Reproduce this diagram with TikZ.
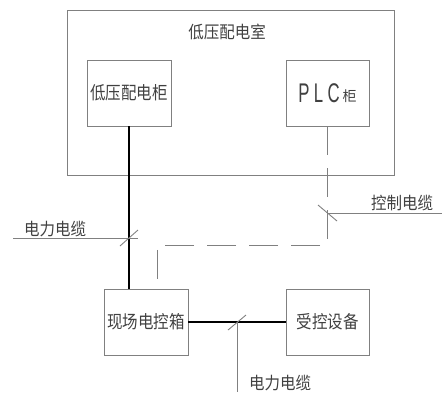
\documentclass[tikz,border=0pt]{standalone}
\usepackage{fontspec}
\usetikzlibrary{calc}
\newfontfamily\cjk{Noto Sans CJK SC}
\newfontfamily\latin{Liberation Sans}
\definecolor{linegray}{HTML}{808080}
\definecolor{textgray}{HTML}{404040}
\tikzset{
  box/.style={draw=linegray, line width=0.9pt, minimum width=84pt, minimum height=66pt, inner sep=0pt},
  power/.style={line width=2.8pt, black},
  ctrl/.style={draw=linegray, line width=0.9pt, dash pattern=on 29pt off 13pt},
  thinline/.style={draw=linegray, line width=0.9pt},
  lbl/.style={text=textgray, font=\cjk\fontsize{15.5}{15.5}\selectfont, inner sep=0pt},
}
\begin{document}
\begin{tikzpicture}[x=1pt,y=-1pt]
\useasboundingbox (0,0) rectangle (442,392);
% room
\node[box, minimum width=327pt, minimum height=165pt] (room) at (230.5,92.5) {};
\node[lbl] (roomlbl) at (227,32) {\scalebox{1}[1.1]{低压配电室}};
% boxes
\node[box, lbl, draw=linegray] (lvc) at (129,93) {\scalebox{1}[1.15]{低压配电柜}};
\node[box, lbl, draw=linegray, minimum width=83pt] (plc) at (327.5,93) {\scalebox{0.62}[1]{\latin\fontsize{27}{27}\selectfont P\hspace{7pt}L\hspace{7pt}C}\hspace{3pt}\raisebox{1pt}{\fontsize{14}{14}\selectfont 柜}};
\node[box, lbl, draw=linegray] (field) at (146,322) {\scalebox{1}[1.15]{现场电控箱}};
\node[box, lbl, draw=linegray, minimum width=83pt] (equip) at (327.5,322) {\scalebox{1}[1.15]{受控设备}};
% power cable lvc -> field
\draw[power] (lvc.south) -- (lvc.south |- field.north);
% control cable plc -> field (dashed)
\coordinate (dc) at (157,245);
\draw[ctrl] (plc.south) |- (dc) -- (dc |- field.north);
% power cable field -> equip
\draw[power] (field.east) -- (equip.west);
% label: left power cable
\coordinate (t1) at (129,238);
\coordinate (l1) at (13,238);
\draw[thinline] (l1) -- ($(t1)+(9,0)$);
\draw[thinline] (t1) ++(-9,8) -- ++(18,-16);
\node[lbl] (lbl1) at (55,229) {\scalebox{1}[1.1]{电力电缆}};
% label: control cable
\coordinate (t2) at (327.5,213);
\coordinate (l2) at (442,213);
\draw[thinline] (t2) -- (l2);
\draw[thinline] (t2) ++(-9.5,-8) -- ++(19,16);
\node[lbl] (lbl2) at (402,203) {\scalebox{1}[1.1]{控制电缆}};
% label: bottom power cable
\coordinate (t3) at (237,322);
\coordinate (l3) at (237,392);
\draw[thinline] (t3) -- (l3);
\draw[thinline] (t3) ++(-9,8) -- ++(18,-15);
\node[lbl] (lbl3) at (280,383) {\scalebox{1}[1.1]{电力电缆}};
\end{tikzpicture}
\end{document}
